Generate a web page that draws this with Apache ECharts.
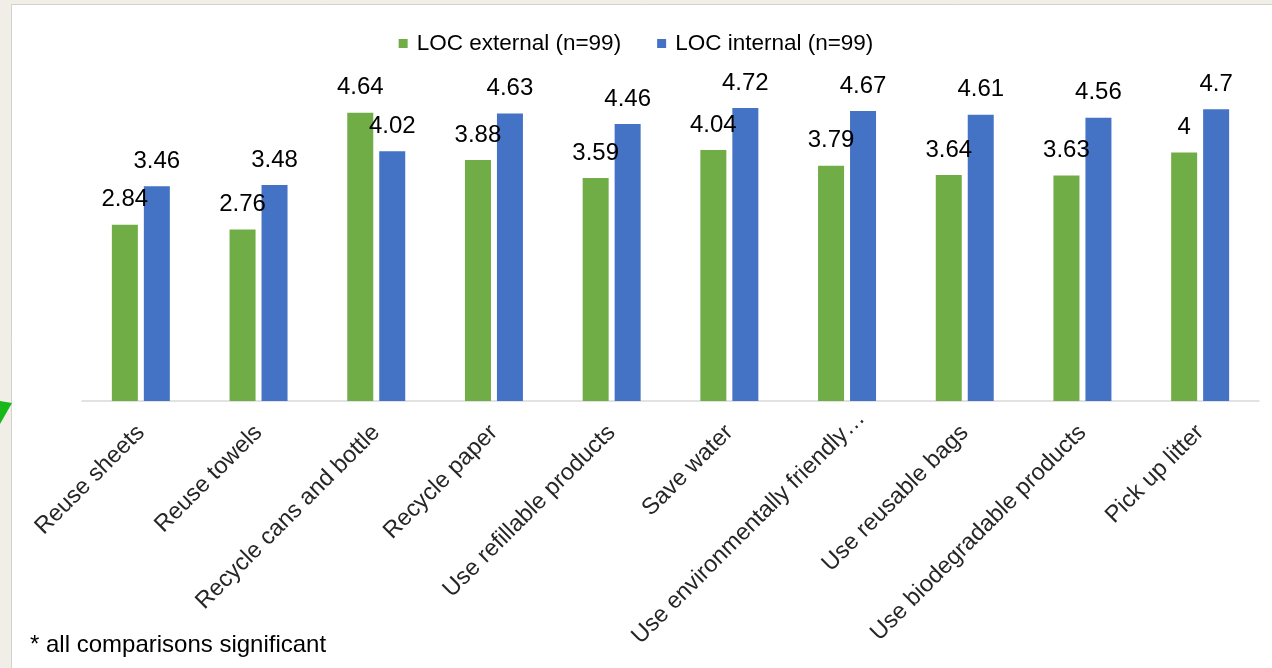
<!DOCTYPE html>
<html>
<head>
<meta charset="utf-8">
<script src="https://cdn.jsdelivr.net/npm/echarts@6/dist/echarts.min.js"></script>
<style>
  html, body { margin: 0; padding: 0; background: #f1eee8; }
  #chart { width: 1272px; height: 668px; }
</style>
</head>
<body>
<div id="chart"></div>
<script>
// Pro-environmental behaviour ratings by locus of control
const categories = [
  'Reuse sheets',
  'Reuse towels',
  'Recycle cans and bottle',
  'Recycle paper',
  'Use refillable products',
  'Save water',
  'Use environmentally friendly…',
  'Use reusable bags',
  'Use biodegradable products',
  'Pick up litter'
];
const locExternal = [2.84, 2.76, 4.64, 3.88, 3.59, 4.04, 3.79, 3.64, 3.63, 4];
const locInternal = [3.46, 3.48, 4.02, 4.63, 4.46, 4.72, 4.67, 4.61, 4.56, 4.7];
const seriesNames = ['LOC external (n=99)', 'LOC internal (n=99)'];
const footnote = '* all comparisons significant';

const FONT = '"Liberation Sans", Arial, sans-serif';

const chart = echarts.init(document.getElementById('chart'), null, { renderer: 'canvas' });

const valueLabel = {
  show: true,
  position: 'top',
  distance: 13,
  color: '#000',
  fontSize: 24,
  fontFamily: FONT
};

// the truncated label sits a little further along its slant
const categoryData = categories.map(function (name) {
  return /…$/.test(name)
    ? { value: name, textStyle: { padding: [0, -20, 0, 0] } }
    : name;
});

chart.setOption({
  animation: false,
  backgroundColor: 'transparent',
  graphic: [
    // white panel with a thin frame on the top and left
    { type: 'rect', z: -10, shape: { x: 11.5, y: 4.5, width: 1272, height: 680 },
      style: { fill: '#ffffff', stroke: '#d4d2cc', lineWidth: 1 } },
    // green pointer tip on the left margin
    { type: 'polygon', z: -5, shape: { points: [[0, 401], [12, 403], [0, 424]] },
      style: { fill: '#18b818' } },
    { type: 'text', left: 30, top: 633,
      style: { text: footnote, fill: '#000', fontSize: 24, fontFamily: FONT } }
  ],
  legend: {
    top: 27,
    left: 'center',
    itemWidth: 9,
    itemHeight: 9,
    itemGap: 36,
    icon: 'rect',
    textStyle: { color: '#000', fontSize: 22.5, fontFamily: FONT, padding: [0, 0, 0, 4] },
    data: seriesNames
  },
  grid: { left: 82, right: 13, top: 90.5, bottom: 267, containLabel: false },
  xAxis: {
    type: 'category',
    data: categoryData,
    axisLine: { lineStyle: { color: '#d9d9d9', width: 1.5 } },
    axisTick: { show: false },
    axisLabel: {
      interval: 0,
      rotate: 45,
      margin: 28,
      color: '#262626',
      fontSize: 23.5,
      fontFamily: FONT
    }
  },
  yAxis: {
    type: 'value',
    min: 0,
    max: 5,
    show: false,
    splitLine: { show: false }
  },
  series: [
    {
      name: seriesNames[0],
      type: 'bar',
      data: locExternal,
      barWidth: 26,
      barGap: '23%',
      itemStyle: { color: '#70ad47' },
      label: valueLabel
    },
    {
      name: seriesNames[1],
      type: 'bar',
      data: locInternal,
      barWidth: 26,
      barGap: '23%',
      itemStyle: { color: '#4472c4' },
      label: valueLabel
    }
  ]
});
</script>
</body>
</html>
